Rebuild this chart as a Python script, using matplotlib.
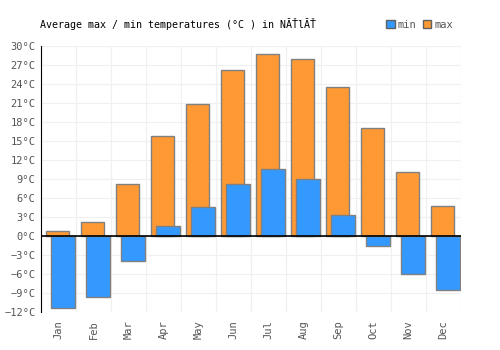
import numpy as np
import matplotlib.pyplot as plt
from matplotlib.patches import Patch

months = ["Jan", "Feb", "Mar", "Apr", "May", "Jun",
          "Jul", "Aug", "Sep", "Oct", "Nov", "Dec"]
t_max = [0.7, 2.2, 8.2, 15.8, 20.8, 26.2, 28.7, 27.9, 23.5, 17.0, 10.1, 4.7]
t_min = [-11.4, -9.7, -4.0, 1.6, 4.5, 8.2, 10.6, 9.0, 3.3, -1.6, -6.0, -8.5]
y_ticks = list(range(-12, 31, 3))

plt.rcParams['font.family'] = ['DejaVu Sans Mono']

fig = plt.figure(figsize=(5, 3.5), dpi=100)
ax = fig.add_axes([0.082, 0.109, 0.84, 0.76])

x = np.arange(len(months))
ax.bar(x + 0.47, t_max, width=0.66, color="#ff9933", edgecolor="#808080",
       linewidth=1, zorder=2)
ax.bar(x + 0.64, t_min, width=0.69, color="#3399ff", edgecolor="#808080",
       linewidth=1, zorder=3)

ax.set_xlim(0, 12)
ax.set_ylim(-12, 30)
ax.set_yticks(y_ticks)
ax.set_yticklabels([f"{v}°C".replace("-", "\u2212") for v in y_ticks])
ax.set_xticks(x + 0.5)
ax.set_xticklabels(months, rotation=90)
ax.set_xticks(np.arange(13), minor=True)
ax.tick_params(axis="both", which="both", length=0, colors="#555555",
               labelsize=7.5)
ax.tick_params(axis="x", pad=6)
ax.tick_params(axis="y", pad=4)
ax.grid(False)
ax.xaxis.grid(True, which="minor", color="#f0f0f0", linewidth=0.9, zorder=0)
ax.yaxis.grid(True, which="major", color="#f0f0f0", linewidth=0.9, zorder=0)
ax.set_axisbelow(True)
ax.axhline(0, color="black", linewidth=1.2, zorder=4)
for s in ["top", "right", "bottom"]:
    ax.spines[s].set_visible(False)
ax.spines["left"].set_color("black")
ax.spines["left"].set_zorder(5)

fig.text(0.08, 0.93, "Average max / min temperatures (°C ) in NĂŤlĂŤ",
         fontsize=7.2, color="black", ha="left", va="center")

handles = [Patch(facecolor="#3399ff", edgecolor="#606060", label="min"),
           Patch(facecolor="#ff9933", edgecolor="#606060", label="max")]
leg = fig.legend(handles=handles, loc="center right", bbox_to_anchor=(0.925, 0.93),
                 ncol=2, frameon=False, fontsize=7.5, handlelength=0.8,
                 handleheight=0.8, handletextpad=0.3, columnspacing=0.6)
for t in leg.get_texts():
    t.set_color("#555555")

fig.savefig("out.png", dpi=100)
